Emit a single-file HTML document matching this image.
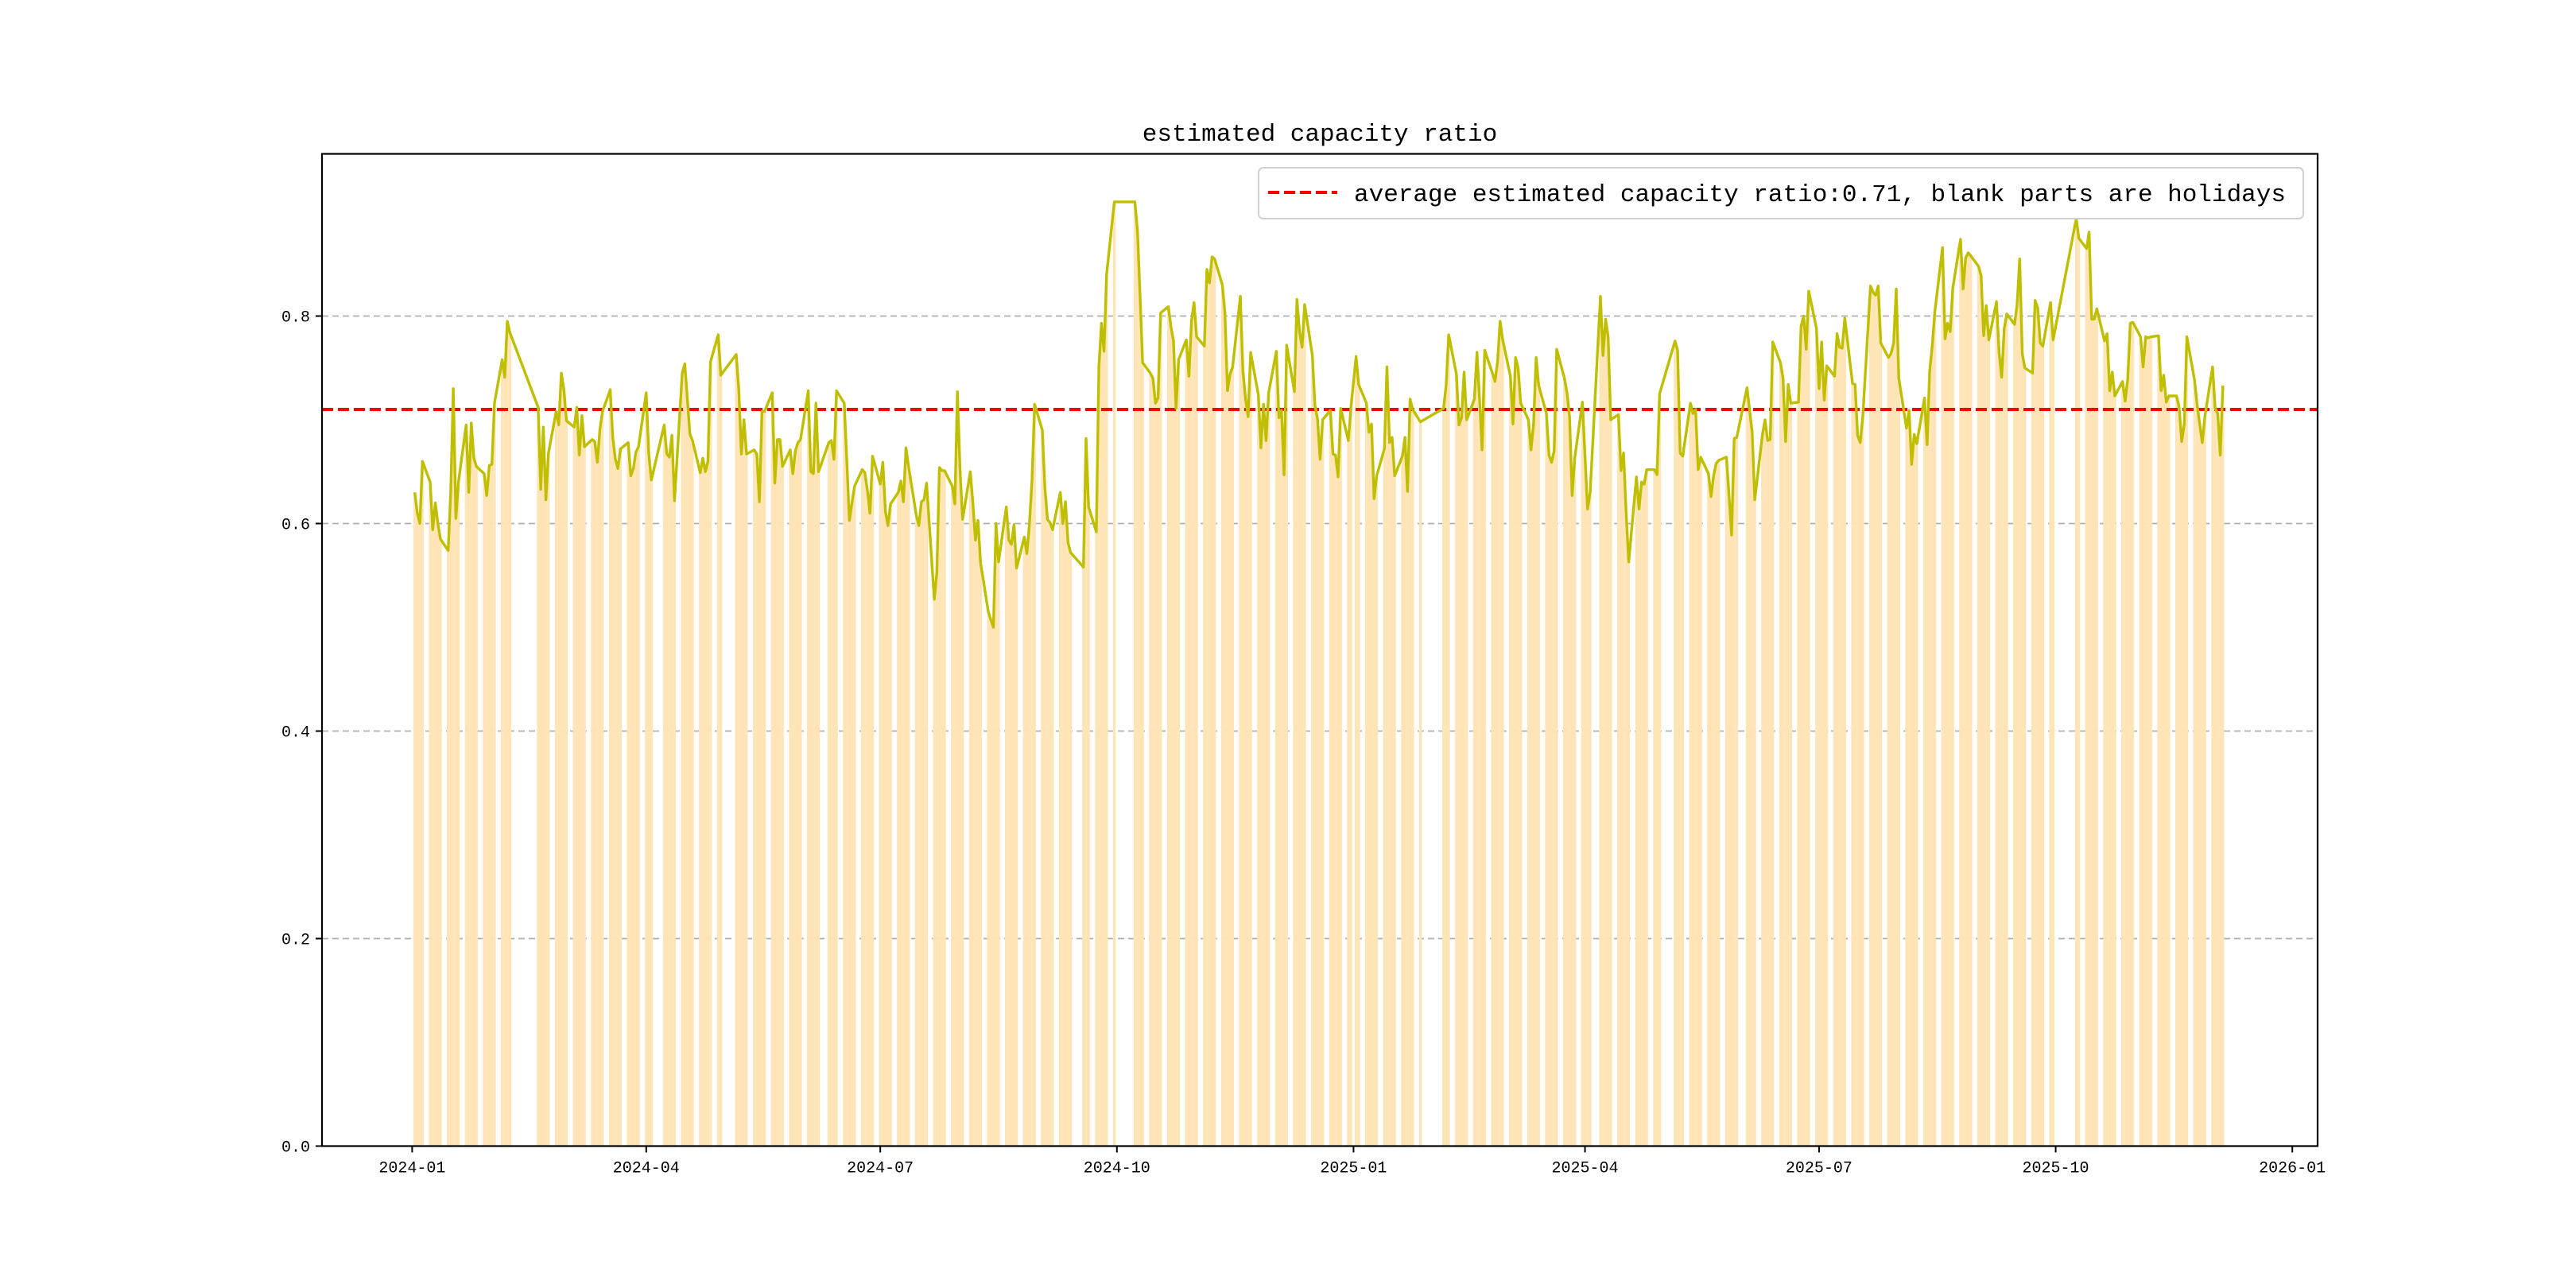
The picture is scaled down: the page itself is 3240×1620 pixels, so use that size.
<!DOCTYPE html>
<html><head><meta charset="utf-8"><title>estimated capacity ratio</title>
<style>html,body{margin:0;padding:0;background:#fff;}svg{display:block;}</style></head>
<body>
<svg id="chart" xmlns="http://www.w3.org/2000/svg" width="3240" height="1620" viewBox="0 0 3240 1620">
<rect x="0" y="0" width="3240" height="1620" fill="#ffffff"/>
<g id="grid"></g>
<g id="bars"></g>
<g id="avg"></g>
<g id="line"></g>
<rect x="405" y="193.5" width="2510" height="1248" fill="none" stroke="#000" stroke-width="2.2"/>
<g id="yticks"></g>
<g id="xticks"></g>
<text x="1660" y="177" text-anchor="middle" font-family="Liberation Mono, monospace" font-size="31" fill="#000">estimated capacity ratio</text>
<g>
<rect x="1583" y="211" width="1314" height="64" rx="6" fill="#fff" fill-opacity="0.85" stroke="#d0d0d0" stroke-width="2"/>
<line x1="1595" y1="242" x2="1682" y2="242" stroke="#ff0000" stroke-width="4" stroke-dasharray="14,6"/>
<text x="1703" y="253" font-family="Liberation Mono, monospace" font-size="31" fill="#000">average estimated capacity ratio:0.71, blank parts are holidays</text>
</g>
</svg>
<script>
const holidays = ["2024-01-01","2024-02-09","2024-02-12","2024-02-13","2024-02-14","2024-02-15","2024-02-16","2024-04-04","2024-04-05","2024-05-01","2024-05-02","2024-05-03","2024-06-10","2024-09-16","2024-09-17","2024-10-01","2024-10-02","2024-10-03","2024-10-04","2024-10-07","2025-01-01","2025-01-28","2025-01-29","2025-01-30","2025-01-31","2025-02-03","2025-02-04","2025-04-04","2025-05-01","2025-05-02","2025-05-05","2025-06-02","2025-10-01","2025-10-02","2025-10-03","2025-10-06","2025-10-07","2025-10-08"];
const firstDay = "2024-01-02";
const lastDay = "2025-12-05";
const values = [
0.63,0.61,0.60,0.66,
0.64,0.594,0.62,0.60,0.585,
0.574,0.631,0.73,0.605,0.64,
0.695,0.63,0.697,0.663,0.655,
0.648,0.627,0.656,0.657,0.716,
0.758,0.741,0.795,0.784,
0.712,0.633,0.693,0.623,0.668,
0.708,0.695,0.745,0.729,0.699,
0.693,0.712,0.666,0.704,0.674,
0.681,0.679,0.659,0.691,0.708,
0.729,0.683,0.662,0.653,0.672,
0.678,0.646,0.653,0.669,0.674,
0.726,0.667,0.642,
0.695,0.667,0.664,0.685,0.622,
0.745,0.754,0.72,0.686,0.68,
0.649,0.663,0.65,0.66,0.756,
0.782,0.743,
0.763,0.729,0.667,0.70,0.667,
0.671,0.667,0.621,0.708,0.708,
0.726,0.639,0.681,0.681,0.655,
0.671,0.648,0.67,0.678,0.681,
0.728,0.65,0.648,0.716,0.65,
0.678,0.68,0.662,0.728,
0.716,0.66,0.603,0.62,0.636,
0.652,0.649,0.632,0.61,0.665,
0.638,0.659,0.612,0.598,0.619,
0.63,0.641,0.621,0.673,0.655,
0.608,0.598,0.621,0.623,0.639,
0.527,0.553,0.654,0.651,0.651,
0.636,0.619,0.727,0.653,0.604,
0.65,0.62,0.584,0.603,0.562,
0.515,0.507,0.50,0.60,0.563,
0.616,0.584,0.58,0.599,0.557,
0.587,0.571,0.60,0.642,0.715,
0.69,0.635,0.604,0.601,0.594,
0.63,0.60,0.621,0.582,0.572,
0.558,0.682,0.616,
0.592,0.751,0.793,0.766,0.84,
0.91,
0.91,0.882,0.82,0.755,
0.745,0.74,0.716,0.721,0.803,
0.809,0.79,0.776,0.711,0.758,
0.777,0.742,0.795,0.813,0.78,
0.771,0.845,0.832,0.857,0.855,
0.83,0.803,0.728,0.744,0.751,
0.819,0.747,0.721,0.703,0.765,
0.724,0.673,0.715,0.68,0.726,
0.766,0.702,0.709,0.647,0.772,
0.727,0.816,0.785,0.77,0.811,
0.762,0.714,0.701,0.662,0.70,
0.709,0.667,0.666,0.645,0.711,
0.68,0.712,0.761,0.734,
0.716,0.688,0.696,0.624,0.646,
0.672,0.751,0.678,0.683,0.646,
0.665,0.683,0.631,0.72,0.71,
0.698,
0.711,0.733,0.782,
0.744,0.695,0.702,0.746,0.70,
0.72,0.765,0.72,0.671,0.767,
0.745,0.737,0.756,0.795,0.777,
0.742,0.696,0.76,0.75,0.716,
0.70,0.671,0.696,0.76,0.733,
0.706,0.666,0.659,0.67,0.768,
0.74,0.726,0.703,0.627,0.663,
0.717,0.665,0.614,0.63,
0.819,0.762,0.797,0.78,0.70,
0.705,0.651,0.668,0.61,0.563,
0.645,0.614,0.64,0.638,0.652,
0.652,0.647,0.725,
0.776,0.767,0.668,0.665,
0.716,0.706,0.71,0.652,0.664,
0.648,0.626,0.646,0.658,0.661,
0.664,0.627,0.589,0.682,0.683,
0.731,0.709,0.688,0.623,
0.686,0.70,0.68,0.681,0.775,
0.755,0.74,0.679,0.734,0.716,
0.717,0.79,0.80,0.768,0.824,
0.788,0.73,0.775,0.719,0.752,
0.742,0.783,0.77,0.769,0.798,
0.735,0.734,0.685,0.678,0.703,
0.829,0.823,0.82,0.829,0.774,
0.76,0.764,0.774,0.826,0.74,
0.692,0.709,0.657,0.686,0.677,
0.721,0.676,0.747,0.771,0.804,
0.866,0.778,0.793,0.785,0.827,
0.874,0.826,0.856,0.861,0.858,
0.848,0.839,0.781,0.81,0.777,
0.814,0.765,0.741,0.788,0.802,
0.792,0.811,0.855,0.764,0.75,
0.745,0.815,0.808,0.774,0.771,
0.813,0.777,
0.894,0.875,
0.865,0.881,0.797,0.797,0.807,
0.776,0.783,0.728,0.746,0.723,
0.737,0.718,0.739,0.793,0.794,
0.78,0.751,0.78,0.779,0.78,
0.781,0.728,0.743,0.717,0.723,
0.723,0.712,0.679,0.696,0.78,
0.738,0.714,0.696,0.678,0.703,
0.751,0.711,0.706,0.666,0.733
];
const averageValue = 0.71;
const yTicks = [0.0, 0.2, 0.4, 0.6, 0.8];
const yTickLabels = ["0.0","0.2","0.4","0.6","0.8"];
const xTickDates = ["2024-01-01","2024-04-01","2024-07-01","2024-10-01","2025-01-01","2025-04-01","2025-07-01","2025-10-01","2026-01-01"];
const xTickLabels = ["2024-01","2024-04","2024-07","2024-10","2025-01","2025-04","2025-07","2025-10","2026-01"];

const NS = "http://www.w3.org/2000/svg";
const AX = {left:405, right:2915, top:193.5, bottom:1441.5};
const DAY0 = Date.UTC(2024,0,1);
function dayIndex(s){const p=s.split("-");return (Date.UTC(+p[0],+p[1]-1,+p[2])-DAY0)/86400000;}
function xScale(d){return 518.4 + 3.235*d;}
function yScale(v){return 1441.5 - 1305*v;}
function mk(tag, attrs){const e=document.createElementNS(NS,tag);for(const k in attrs)e.setAttribute(k,attrs[k]);return e;}

// trading days
const hol = new Set(holidays);
const days = [];
for(let d=dayIndex(firstDay); d<=dayIndex(lastDay); d++){
  const dt = new Date(DAY0 + d*86400000);
  const wd = dt.getUTCDay();
  const s = dt.toISOString().slice(0,10);
  if(wd===0||wd===6||hol.has(s)) continue;
  days.push(d);
}
const n = Math.min(days.length, values.length);

// grid
const grid = document.getElementById("grid");
yTicks.forEach((t,i)=>{
  if(t===0) return;
  const y = yScale(t);
  const l = mk("line",{x1:AX.left,x2:AX.right,y1:y,y2:y,stroke:"#b0b0b0","stroke-width":1.8,"stroke-dasharray":"8,5"});
  
  
  grid.appendChild(l);
});

// bars
const bars = document.getElementById("bars");
const bw = 3.235;
for(let i=0;i<n;i++){
  const x = xScale(days[i]) - bw/2;
  const y = yScale(values[i]);
  const r = mk("rect",{x:x.toFixed(2),y:y.toFixed(2),width:bw.toFixed(3),height:(yScale(0)-y).toFixed(2),fill:"#ffe4b5"});
  
  
  bars.appendChild(r);
}

// average line
const avg = document.getElementById("avg");
const ya = yScale(averageValue);
const al = mk("line",{x1:AX.left,x2:AX.right,y1:ya,y2:ya,stroke:"#ff0000","stroke-width":4,"stroke-dasharray":"14,6"});


avg.appendChild(al);

// ratio line
const pts = [];
for(let i=0;i<n;i++) pts.push(xScale(days[i]).toFixed(2)+","+yScale(values[i]).toFixed(2));
const pl = mk("polyline",{points:pts.join(" "),fill:"none",stroke:"#bfbf00","stroke-width":3.4,"stroke-linejoin":"round"});


document.getElementById("line").appendChild(pl);

// y ticks
const yt = document.getElementById("yticks");
yTicks.forEach((t,i)=>{
  const y = yScale(t);
  const tk = mk("line",{x1:AX.left-8,x2:AX.left,y1:y,y2:y,stroke:"#000","stroke-width":2});
  
  
  yt.appendChild(tk);
  const tx = mk("text",{x:AX.left-15,y:y+7,"text-anchor":"end","font-family":"Liberation Mono, monospace","font-size":20,fill:"#000"});
  tx.textContent = yTickLabels[i];
  
  
  yt.appendChild(tx);
});

// x ticks
const xt = document.getElementById("xticks");
xTickDates.forEach((s,i)=>{
  const x = xScale(dayIndex(s));
  const tk = mk("line",{x1:x,x2:x,y1:AX.bottom,y2:AX.bottom+8,stroke:"#000","stroke-width":2});
  
  
  xt.appendChild(tk);
  const tx = mk("text",{x:x,y:AX.bottom+33,"text-anchor":"middle","font-family":"Liberation Mono, monospace","font-size":20,fill:"#000"});
  tx.textContent = xTickLabels[i];
  
  
  xt.appendChild(tx);
});
</script>
</body></html>
